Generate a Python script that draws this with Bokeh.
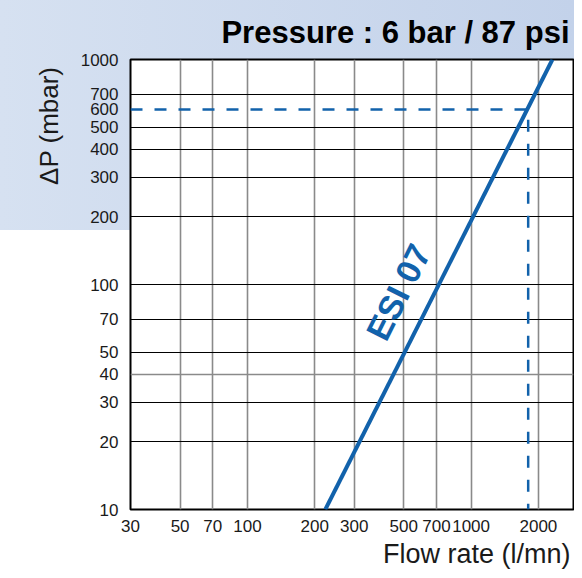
from bokeh.plotting import figure
from bokeh.models import FixedTicker, NumeralTickFormatter, Label, Grid, Range1d, Title
from bokeh.embed import file_html
from bokeh.resources import INLINE

# ---- data ----
x_ticks = [30, 50, 70, 100, 200, 300, 500, 700, 1000, 2000]
y_ticks = [10, 20, 30, 40, 50, 70, 100, 200, 300, 400, 500, 600, 700, 1000]
x_grid = [50, 70, 100, 200, 300, 500, 700, 1000, 2000]
y_grid = [20, 30, 50, 70, 100, 200, 300, 400, 500, 700]
y_grid_gray = [40]
esi_flow = [223, 2310]
esi_dp = [10, 1000]
op_flow = [30, 1800, 1800]
op_dp = [600, 600, 10]

BLUE = "#1262ab"
FONT = "Liberation Sans"

p = figure(width=574, height=570, x_axis_type="log", y_axis_type="log",
           x_range=Range1d(30, 2870), y_range=Range1d(10, 1000),
           output_backend="svg", toolbar_location=None,
           min_border_left=130, min_border_right=1,
           min_border_top=59, min_border_bottom=60,
           border_fill_color=None, background_fill_color="white",
           outline_line_color="black", outline_line_width=2)

p.styles = {
    "background": "linear-gradient(to right, #d6e1f1, #c3d2ea) no-repeat",
    "background-size": "100% 230px",
}

# title
p.title.text = "Pressure : 6 bar / 87 psi"
p.title.align = "right"
p.title.offset = 4
p.title.text_font = FONT
p.title.text_font_size = "31px"
p.title.text_font_style = "bold"
p.title.text_color = "black"
p.title.standoff = 19

# axes
p.xaxis.ticker = FixedTicker(ticks=x_ticks)
p.yaxis.ticker = FixedTicker(ticks=y_ticks)
p.xaxis.formatter = NumeralTickFormatter(format="0")
p.yaxis.formatter = NumeralTickFormatter(format="0")
for ax in (p.xaxis, p.yaxis):
    ax.axis_line_color = None
    ax.major_tick_line_color = None
    ax.minor_tick_line_color = None
    ax.major_tick_out = 0
    ax.major_tick_in = 0
    ax.major_label_text_font = FONT
    ax.major_label_text_font_size = "17px"
    ax.major_label_text_color = "#1a1a1a"
p.xaxis.major_label_standoff = 10
p.yaxis.major_label_standoff = 12

# axis titles
p.add_layout(Title(text="Flow rate (l/mn)", align="right", text_font=FONT,
                   text_font_size="27px", text_font_style="normal",
                   text_color="#1a1a1a", standoff=4, offset=3), "below")
p.add_layout(Title(text="ΔP (mbar)", align="right", text_font=FONT,
                   text_font_size="26px", text_font_style="normal",
                   text_color="#1a1a1a", standoff=27, offset=7), "left")

# grids
p.xgrid.ticker = FixedTicker(ticks=x_grid)
p.xgrid.grid_line_color = "#8a8a8a"
p.xgrid.grid_line_width = 1.6
p.ygrid.ticker = FixedTicker(ticks=y_grid)
p.ygrid.grid_line_color = "black"
p.ygrid.grid_line_width = 1
g40 = Grid(dimension=1, ticker=FixedTicker(ticks=y_grid_gray),
           grid_line_color="#8a8a8a", grid_line_width=1.6)
p.add_layout(g40)

# curves
p.line(op_flow, op_dp, line_color=BLUE, line_width=2.5, line_dash="12 12")
p.line(esi_flow, esi_dp, line_color=BLUE, line_width=4)

# curve label
p.add_layout(Label(x=473, y=92.6, text="ESI 07", angle=63.5, angle_units="deg",
                   text_align="center", text_baseline="middle",
                   text_font=FONT, text_font_size="34px", text_font_style="bold",
                   text_color=BLUE))

open("out.html", "w").write(file_html(p, INLINE))
